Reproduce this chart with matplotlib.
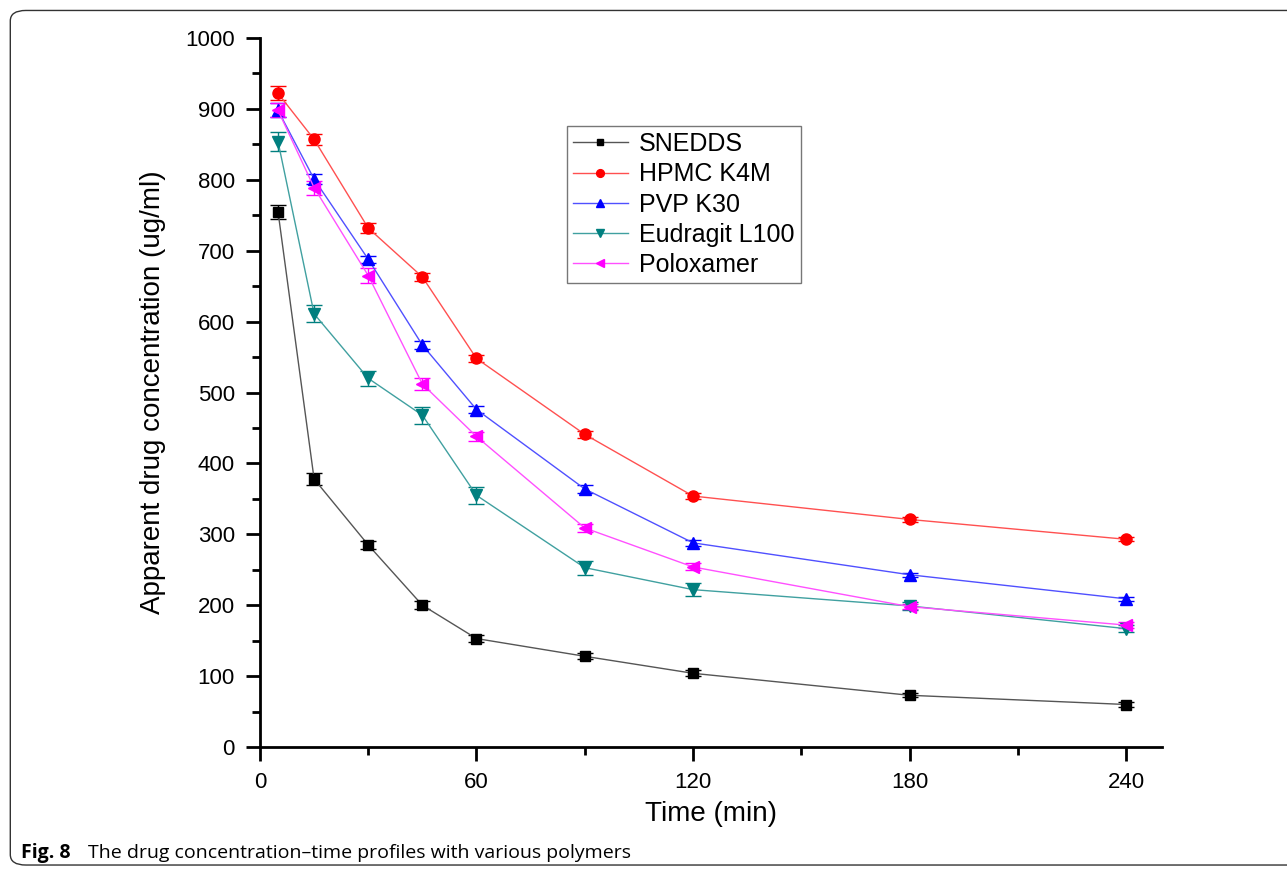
import matplotlib.pyplot as plt
from matplotlib.patches import FancyBboxPatch
from matplotlib.ticker import MultipleLocator

time_min = [5, 15, 30, 45, 60, 90, 120, 180, 240]

snedds = [755, 378, 285, 200, 153, 128, 104, 73, 60]
hpmc = [922, 857, 732, 663, 548, 441, 354, 321, 293]
pvp = [898, 801, 688, 567, 476, 364, 288, 243, 209]
eudragit = [854, 611, 520, 468, 355, 253, 222, 199, 167]
poloxamer = [898, 789, 665, 512, 438, 309, 254, 198, 172]

snedds_err = [10, 8, 6, 6, 5, 4, 4, 3, 3]
hpmc_err = [10, 8, 7, 6, 5, 5, 4, 3, 3]
pvp_err = [10, 7, 5, 6, 5, 5, 4, 3, 3]
eudragit_err = [13, 12, 11, 12, 12, 10, 9, 6, 5]
poloxamer_err = [10, 10, 10, 9, 7, 6, 5, 4, 4]

plt.rcParams['font.family'] = ['Liberation Sans', 'DejaVu Sans']

fig = plt.figure(figsize=(12.87, 8.72), dpi=100)
ax = fig.add_axes([0.202, 0.1433, 0.701, 0.8131])

series = [
    ('SNEDDS', snedds, snedds_err, 's', 7, 'black', '#555555'),
    ('HPMC K4M', hpmc, hpmc_err, 'o', 8, 'red', '#ff5050'),
    ('PVP K30', pvp, pvp_err, '^', 8, 'blue', '#5050ff'),
    ('Eudragit L100', eudragit, eudragit_err, 'v', 8, '#007f7f', '#40a0a0'),
    ('Poloxamer', poloxamer, poloxamer_err, '<', 8, 'magenta', '#ff50ff'),
]

handles = []
for name, vals, err, mk, ms, mc, lc in series:
    ax.errorbar(time_min, vals, yerr=err, fmt='none', ecolor=mc,
                elinewidth=1, capsize=6, capthick=1, zorder=2)
    h, = ax.plot(time_min, vals, color=lc, lw=1, marker=mk, ms=ms,
                 mfc=mc, mec=mc, label=name, zorder=3)
    handles.append(h)

ax.set_xlim(0, 250)
ax.set_ylim(0, 1000)
ax.set_xticks([0, 60, 120, 180, 240])
ax.xaxis.set_minor_locator(MultipleLocator(30))
ax.yaxis.set_major_locator(MultipleLocator(100))
ax.yaxis.set_minor_locator(MultipleLocator(50))
ax.spines['top'].set_visible(False)
ax.spines['right'].set_visible(False)
ax.spines['left'].set_linewidth(2)
ax.spines['bottom'].set_linewidth(2)
ax.tick_params(which='major', direction='out', length=10, width=2, labelsize=16, pad=8)
ax.tick_params(which='minor', direction='out', length=6, width=2)

ax.set_xlabel('Time (min)', fontsize=20, labelpad=6)
ax.set_ylabel('Apparent drug concentration (ug/ml)', fontsize=20, labelpad=14)

leg = ax.legend(handles=handles, loc='upper left', bbox_to_anchor=(0.34, 0.876),
                borderaxespad=0, fontsize=18, frameon=True, fancybox=False,
                edgecolor='#555555', handlelength=2.2, handletextpad=0.45,
                borderpad=0.25, labelspacing=0.25, markerscale=0.7)
leg.get_frame().set_linewidth(1)

# rounded figure frame and caption
frame = FancyBboxPatch((0.008, 0.008), 1.2, 0.98, boxstyle='round,pad=0,rounding_size=0.012',
                       transform=fig.transFigure, fill=False, edgecolor='#333333', lw=1)
fig.patches.append(frame)
fig.text(0.016, 0.016, 'Fig. 8', fontsize=14, fontweight='bold', family=['Open Sans', 'DejaVu Sans'])
fig.text(0.068, 0.016, 'The drug concentration\u2013time profiles with various polymers',
         fontsize=14, family=['Open Sans', 'DejaVu Sans'])

fig.savefig('out.png', dpi=100)
